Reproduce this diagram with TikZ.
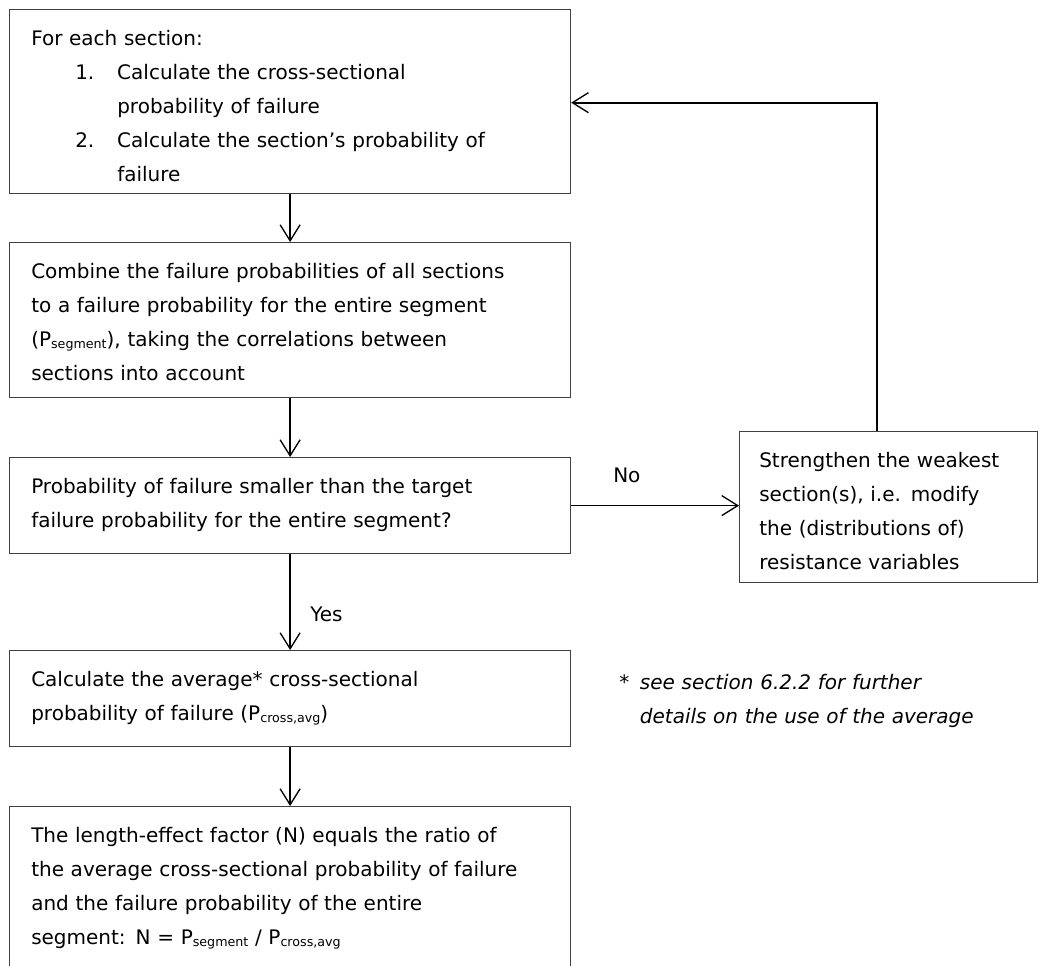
\documentclass[tikz,border=0pt]{standalone}
\usepackage{fontspec}
\setmainfont{DejaVu Sans}
\usetikzlibrary{arrows.meta}

% small lowered index text, as in P_segment
\newcommand\lowsub[1]{\raisebox{-1.6pt}{\fontsize{9.5}{10}\selectfont #1}}
% one pixel of the drawing grid
\def\pxu{0.75pt}

\begin{document}
\begin{tikzpicture}[x=0.75pt,y=-0.75pt,
  box/.style={draw=black!75, line width=0.9pt, rectangle, inner sep=0pt,
              anchor=north west},
  txt/.style={anchor=base west, inner sep=0pt, text width=420pt, align=left,
              font=\fontsize{15}{25.5}\selectfont},
  lbl/.style={anchor=base west, inner sep=0pt, font=\fontsize{15}{25.5}\selectfont},
  flow/.style={line width=1.3pt,
               -{Straight Barb[length=12pt,width=15pt,line width=1pt]}}
]
\clip (0,0) rectangle (1040,965);
\fill[white] (0,0) rectangle (1040,965);

% process boxes
\node[box, minimum width=561*\pxu, minimum height=184*\pxu] (b1) at (9,9) {};
\node[box, minimum width=561*\pxu, minimum height=155*\pxu] (b2) at (9,242) {};
\node[box, minimum width=561*\pxu, minimum height=96*\pxu]  (b3) at (9,457) {};
\node[box, minimum width=561*\pxu, minimum height=96*\pxu]  (b4) at (9,650) {};
\node[box, minimum width=561*\pxu, minimum height=200*\pxu] (b5) at (9,806) {};
\node[box, minimum width=298*\pxu, minimum height=151*\pxu] (rb) at (739,431) {};

% box texts
\node[txt] (t1) at (31,45) {For each section:\\
  \hspace*{33pt}\makebox[31.5pt][l]{1.}Calculate the cross-sectional\\
  \hspace*{64.5pt}probability of failure\\
  \hspace*{33pt}\makebox[31.5pt][l]{2.}Calculate the section’s probability of\\
  \hspace*{64.5pt}failure};
\node[txt] (t2) at (31,278) {Combine the failure probabilities of all sections\\
  to a failure probability for the entire segment\\
  (P\lowsub{segment}), taking the correlations between\\
  sections into account};
\node[txt] (t3) at (31,493) {Probability of failure smaller than the target\\
  failure probability for the entire segment?};
\node[txt] (t4) at (31,686) {Calculate the average* cross-sectional\\
  probability of failure (P\lowsub{cross,avg})};
\node[txt] (t5) at (31,842) {The length-effect factor (N) equals the ratio of\\
  the average cross-sectional probability of failure\\
  and the failure probability of the entire\\
  segment: N = P\lowsub{segment} / P\lowsub{cross,avg}};
\node[txt, text width=210pt] (tr) at (759,467) {Strengthen the weakest\\
  section(s), i.e. modify\\
  the (distributions of)\\
  resistance variables};

% footnote
\node[txt, text width=320pt] (fn) at (619,689) {\makebox[15.5pt][l]{*}\textit{see section 6.2.2 for further}\\
  \hspace*{15.5pt}\textit{details on the use of the average}};

% connectors
\draw[flow] (b1.south) -- (b2.north);
\draw[flow] (b2.south) -- (b3.north);
\draw[flow] (b3.south) -- (b4.north);
\draw[flow] (b4.south) -- (b5.north);
\draw[flow] (b3.east) -- (b3.east -| rb.west);
\draw[flow] ([xshift=-8.6pt]rb.north) |- ([yshift=-0.8pt]b1.east);

% branch labels
\node[lbl] (yes) at (310,621) {Yes};
\node[lbl] (no) at (613,482) {No};
\end{tikzpicture}
\end{document}
